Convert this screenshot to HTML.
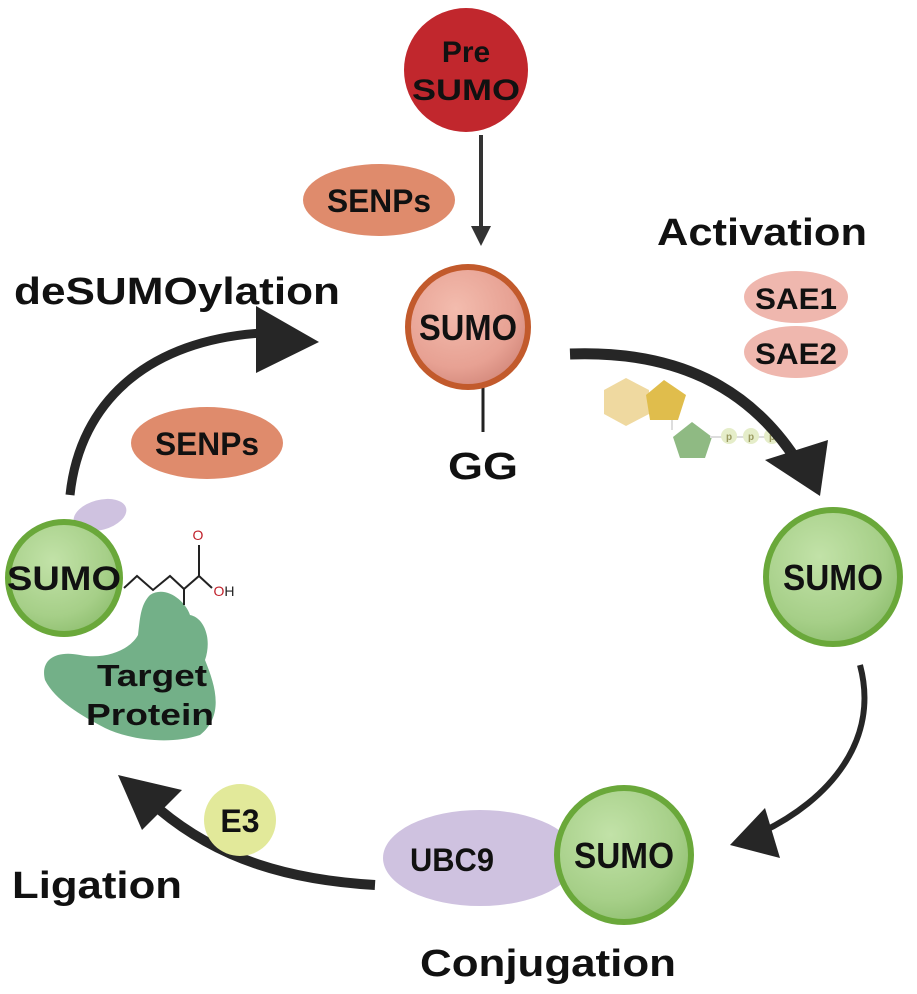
<!DOCTYPE html>
<html><head><meta charset="utf-8"><style>
html,body{margin:0;padding:0;background:#fff}
svg{display:block}
text{font-family:"Liberation Sans","DejaVu Sans",sans-serif;font-weight:bold;fill:#111}
</style></head><body>
<svg width="917" height="994" viewBox="0 0 917 994" xmlns="http://www.w3.org/2000/svg">
<defs>
<radialGradient id="gg" cx="0.4" cy="0.35" r="0.7"><stop offset="0" stop-color="#c2e2a8"/><stop offset="0.7" stop-color="#a6cf88"/><stop offset="1" stop-color="#8fbf70"/></radialGradient>
<radialGradient id="pg" cx="0.4" cy="0.35" r="0.7"><stop offset="0" stop-color="#f3bcae"/><stop offset="0.7" stop-color="#e7a193"/><stop offset="1" stop-color="#d2877a"/></radialGradient>
</defs>

<!-- Pre SUMO -->
<circle cx="466" cy="70" r="62" fill="#c1272d"/>
<text x="466" y="62" font-size="30" text-anchor="middle">Pre</text>
<text x="466" y="100" font-size="30" text-anchor="middle" textLength="108" lengthAdjust="spacingAndGlyphs">SUMO</text>

<!-- SENPs top -->
<ellipse cx="379" cy="200" rx="76" ry="36" fill="#df8b6c"/>
<text x="379" y="212" font-size="32" text-anchor="middle" textLength="104" lengthAdjust="spacingAndGlyphs">SENPs</text>

<!-- down arrow -->
<line x1="481" y1="135" x2="481" y2="230" stroke="#333" stroke-width="4"/>
<polygon points="471,226 491,226 481,246" fill="#333"/>

<!-- top SUMO -->
<line x1="483" y1="385" x2="483" y2="432" stroke="#222" stroke-width="3"/>
<circle cx="468" cy="327" r="60" fill="url(#pg)" stroke="#c25a2c" stroke-width="6"/>
<text x="468" y="340" font-size="36" text-anchor="middle" textLength="98" lengthAdjust="spacingAndGlyphs">SUMO</text>
<text x="483" y="479" font-size="38" text-anchor="middle" textLength="70" lengthAdjust="spacingAndGlyphs">GG</text>

<!-- Activation -->
<text x="762" y="245" font-size="38" text-anchor="middle" textLength="210" lengthAdjust="spacingAndGlyphs">Activation</text>
<ellipse cx="796" cy="297" rx="52" ry="26" fill="#efb7ae"/>
<ellipse cx="796" cy="352" rx="52" ry="26" fill="#efb7ae"/>
<text x="796" y="309" font-size="30" text-anchor="middle" textLength="82" lengthAdjust="spacingAndGlyphs">SAE1</text>
<text x="796" y="364" font-size="30" text-anchor="middle" textLength="82" lengthAdjust="spacingAndGlyphs">SAE2</text>

<!-- ATP -->
<polygon points="626,378 649,390 649,414 626,426 604,414 604,390" fill="#efd9a0"/>
<polygon points="664,380 686,395 678,420 650,420 646,395" fill="#e0bd4c"/>
<line x1="672" y1="420" x2="672" y2="430" stroke="#ddd" stroke-width="2"/>
<polygon points="692,422 712,437 705,458 680,458 673,437" fill="#8fba83"/>
<line x1="710" y1="437" x2="780" y2="437" stroke="#ddd" stroke-width="2"/>
<circle cx="729" cy="436" r="8" fill="#e5edc9"/><circle cx="751" cy="436" r="8" fill="#e5edc9"/><circle cx="772" cy="436" r="8" fill="#e5edc9"/>
<text x="729" y="440" font-size="10" text-anchor="middle" style="fill:#9a9a60">p</text>
<text x="751" y="440" font-size="10" text-anchor="middle" style="fill:#9a9a60">p</text>
<text x="772" y="440" font-size="10" text-anchor="middle" style="fill:#9a9a60">p</text>

<!-- activation arrow -->
<path d="M570,354 C680,350 750,390 795,458" fill="none" stroke="#262626" stroke-width="11"/>
<polygon points="765,460 828,440 820,496" fill="#262626"/>

<!-- right SUMO -->
<circle cx="833" cy="577" r="67" fill="url(#gg)" stroke="#6aa83a" stroke-width="6"/>
<text x="833" y="590" font-size="36" text-anchor="middle" textLength="100" lengthAdjust="spacingAndGlyphs">SUMO</text>

<!-- conjugation arrow -->
<path d="M860,665 C880,740 830,800 760,833" fill="none" stroke="#262626" stroke-width="6"/>
<polygon points="765,808 730,845 780,858" fill="#262626"/>

<!-- UBC9 + SUMO -->
<ellipse cx="480" cy="858" rx="97" ry="48" fill="#cfc2e0"/>
<text x="452" y="871" font-size="32" text-anchor="middle" textLength="84" lengthAdjust="spacingAndGlyphs">UBC9</text>
<circle cx="624" cy="855" r="67" fill="url(#gg)" stroke="#6aa83a" stroke-width="6"/>
<text x="624" y="868" font-size="36" text-anchor="middle" textLength="100" lengthAdjust="spacingAndGlyphs">SUMO</text>
<text x="548" y="976" font-size="38" text-anchor="middle" textLength="256" lengthAdjust="spacingAndGlyphs">Conjugation</text>

<!-- ligation arrow -->
<path d="M375,885 C290,880 220,860 160,810" fill="none" stroke="#262626" stroke-width="10"/>
<polygon points="118,775 182,790 142,830" fill="#262626"/>
<circle cx="240" cy="820" r="36" fill="#e2e99a"/>
<text x="240" y="832" font-size="32" text-anchor="middle">E3</text>
<text x="97" y="898" font-size="38" text-anchor="middle" textLength="170" lengthAdjust="spacingAndGlyphs">Ligation</text>

<!-- deSUMO arrow -->
<path d="M70,495 C80,400 150,340 262,333" fill="none" stroke="#262626" stroke-width="9"/>
<polygon points="256,306 319,342 256,373" fill="#262626"/>
<text x="177" y="304" font-size="38" text-anchor="middle" textLength="326" lengthAdjust="spacingAndGlyphs">deSUMOylation</text>
<ellipse cx="207" cy="443" rx="76" ry="36" fill="#df8b6c"/>
<text x="207" y="455" font-size="32" text-anchor="middle" textLength="104" lengthAdjust="spacingAndGlyphs">SENPs</text>

<!-- left complex -->
<ellipse cx="100" cy="515" rx="27" ry="15" fill="#cfc2e0" transform="rotate(-15 100 515)"/>
<path d="M150,595 C165,585 185,600 190,615 C205,618 212,640 205,660 C215,685 225,715 200,735 C170,745 130,740 105,728 C80,715 55,700 45,680 C40,660 55,650 80,655 C105,660 130,650 138,635 C140,620 140,605 150,595 Z" fill="#73b088"/>
<circle cx="64" cy="578" r="56" fill="url(#gg)" stroke="#6aa83a" stroke-width="6"/>
<text x="64" y="590" font-size="34" text-anchor="middle" textLength="114" lengthAdjust="spacingAndGlyphs">SUMO</text>
<polyline points="124,588 137,576 153,590 170,576 184,589 199,576 212,588" fill="none" stroke="#222" stroke-width="2"/>
<line x1="199" y1="576" x2="199" y2="545" stroke="#222" stroke-width="2"/>
<line x1="184" y1="589" x2="184" y2="605" stroke="#222" stroke-width="2"/>
<text x="198" y="540" font-size="14" style="fill:#c0202a;font-weight:normal" text-anchor="middle">O</text>
<text x="224" y="596" font-size="14" style="fill:#c0202a;font-weight:normal" text-anchor="middle">O<tspan style="fill:#222">H</tspan></text>
<text x="152" y="686" font-size="31" text-anchor="middle" textLength="110" lengthAdjust="spacingAndGlyphs">Target</text>
<text x="150" y="725" font-size="31" text-anchor="middle" textLength="128" lengthAdjust="spacingAndGlyphs">Protein</text>
</svg>
</body></html>
